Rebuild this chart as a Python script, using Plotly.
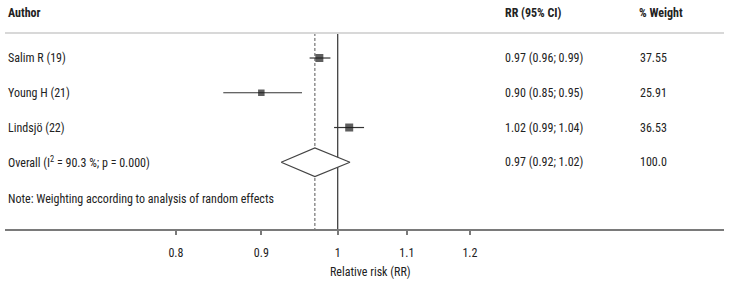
import plotly.graph_objects as go

# ---- data ----
authors = ["Salim R (19)", "Young H (21)", "Lindsjö (22)"]
rr_point = [0.975, 0.90, 1.016]
rr_low = [0.962, 0.854, 0.995]
rr_high = [0.990, 0.952, 1.037]
rr_labels = ["0.97 (0.96; 0.99)", "0.90 (0.85; 0.95)", "1.02 (0.99; 1.04)"]
weights = ["37.55", "25.91", "36.53"]
marker_sizes = [8, 6.5, 8]

overall_label = "Overall (I<sup>2</sup> = 90.3 %; p = 0.000)"
overall_point = 0.969
overall_low = 0.925
overall_high = 1.017
overall_rr_label = "0.97 (0.92; 1.02)"
overall_weight = "100.0"
note = "Note: Weighting according to analysis of random effects"

tick_vals = [0.8, 0.9, 1, 1.1, 1.2]
tick_text = ["0.8", "0.9", "1", "1.1", "1.2"]
x_title = "Relative risk (RR)"

FONT = "Liberation Sans Narrow, Arial Narrow, Roboto Condensed, sans-serif"
FS = 12
TXT = "#222222"
LINE = "#333333"

rows = [0, 1, 2]
overall_row = 3
note_row = 4.05
header_row = -1.3
header_line_row = -0.72
y_bottom = 4.92
y_top = -1.669

fig = go.Figure()

# reference lines (null and pooled estimate)
fig.add_trace(go.Scatter(x=[1, 1], y=[header_line_row, y_bottom], mode="lines",
                         line=dict(color=LINE, width=1.2), hoverinfo="skip", showlegend=False))
fig.add_trace(go.Scatter(x=[overall_point, overall_point], y=[header_line_row, y_bottom], mode="lines",
                         line=dict(color="#555555", width=1, dash="3px,2px"), hoverinfo="skip", showlegend=False))

# study estimates with CI
fig.add_trace(go.Scatter(
    x=rr_point, y=rows, mode="markers",
    marker=dict(symbol="square", size=marker_sizes, color="#1a1a1a", line=dict(width=0)),
    error_x=dict(type="data", symmetric=False,
                 array=[h - p for h, p in zip(rr_high, rr_point)],
                 arrayminus=[p - l for p, l in zip(rr_point, rr_low)],
                 color=LINE, thickness=1.2, width=0),
    showlegend=False))

# overall diamond
dh = 0.41
fig.add_trace(go.Scatter(
    x=[overall_low, overall_point, overall_high, overall_point, overall_low],
    y=[overall_row, overall_row - dh, overall_row, overall_row + dh, overall_row],
    mode="lines", fill="toself", fillcolor="white",
    line=dict(color="#444444", width=1.2), showlegend=False))

# header line
fig.add_shape(type="line", xref="paper", yref="y", x0=0, x1=1,
              y0=header_line_row, y1=header_line_row,
              line=dict(color="#d8d8d8", width=2))

W = 719.0
def px(p):
    return (p - 5) / W

ann = []
def add(text, x, y, bold=False, anchor="left"):
    ann.append(dict(text=f"<b>{text}</b>" if bold else text, xref="paper", yref="y",
                    x=px(x), y=y, xanchor=anchor, yanchor="middle", showarrow=False,
                    font=dict(family=FONT, size=FS, color=TXT)))

add("Author", 6, header_row, bold=True)
add("RR (95% CI)", 503, header_row, bold=True)
add("% Weight", 637, header_row, bold=True)
for r, a, l, w in zip(rows, authors, rr_labels, weights):
    add(a, 6, r)
    add(l, 503, r)
    add(w, 638, r)
add(overall_label, 6, overall_row)
add(overall_rr_label, 503, overall_row)
add(overall_weight, 638, overall_row)
add(note, 6, note_row)

ann.append(dict(text=x_title, xref="paper", yref="paper", x=px(370.5), y=(229 - 272) / 229.0,
                xanchor="center", yanchor="middle", showarrow=False,
                font=dict(family=FONT, size=FS, color=TXT)))

fig.update_layout(
    width=729, height=281,
    margin=dict(l=5, r=5, t=0, b=52),
    paper_bgcolor="white", plot_bgcolor="white",
    annotations=ann,
    xaxis=dict(type="log", range=[-0.1993, 0.2314], tickvals=tick_vals, ticktext=tick_text,
               showgrid=False, zeroline=False, showline=True, linecolor="#7a7a7a", linewidth=1.5,
               ticks="outside", ticklen=4, tickcolor="#7a7a7a", tickwidth=1.5,
               ticklabelstandoff=8,
               tickfont=dict(family=FONT, size=FS, color=TXT), automargin=False, fixedrange=True),
    yaxis=dict(range=[y_bottom, y_top], visible=False, showgrid=False, zeroline=False,
               automargin=False, fixedrange=True),
    font=dict(family=FONT, size=FS, color=TXT),
)

fig.write_html("out.html", config={"displayModeBar": False},
               post_script="document.body.style.margin='0';")
